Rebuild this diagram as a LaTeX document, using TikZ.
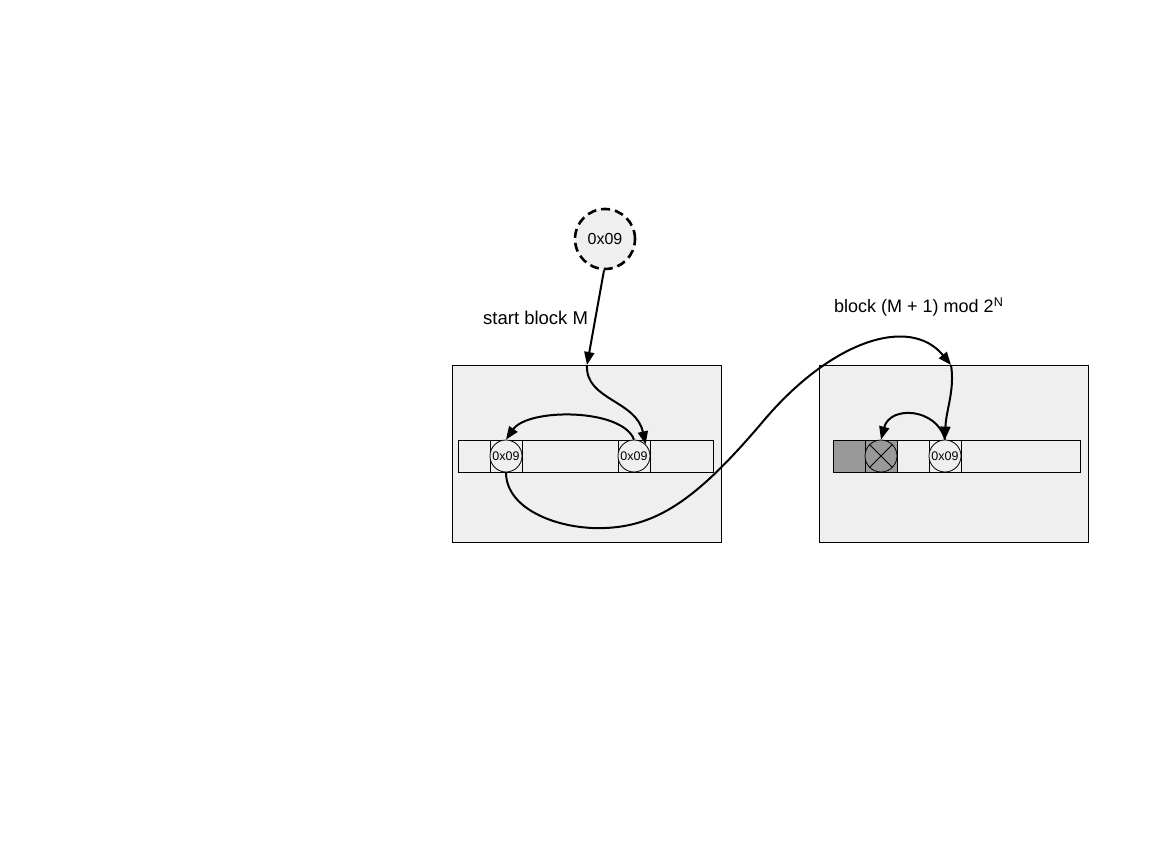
\documentclass[tikz,border=0pt]{standalone}
\usepackage{fontspec}
\setmainfont{Liberation Sans}
\usetikzlibrary{arrows.meta}
\definecolor{boxgray}{HTML}{EFEFEF}
\definecolor{darkcell}{HTML}{999999}
\begin{document}
\begin{tikzpicture}[x=1pt,y=-1pt,
  blockbox/.style={draw=black,line width=0.8pt,fill=boxgray},
  cellbox/.style={draw=black,line width=0.8pt,fill=boxgray},
  darkbox/.style={draw=black,line width=0.8pt,fill=darkcell},
  valcirc/.style={circle,draw=black,line width=0.8pt,fill=boxgray,minimum size=32pt,inner sep=0pt,font=\fontsize{12.5}{13}\selectfont},
  conn/.style={line width=2pt,-{Triangle[length=13pt,width=10pt]}},
  lbl/.style={font=\fontsize{18.5}{20}\selectfont,inner sep=0pt}
]
\useasboundingbox (0,0) rectangle (1152,864);
% blocks
\node[blockbox,minimum width=269pt,minimum height=177pt,inner sep=0pt,anchor=north west] (blkL) at (452,365) {};
\node[blockbox,minimum width=269pt,minimum height=177pt,inner sep=0pt,anchor=north west] (blkR) at (819,365) {};
% left strip
\draw[cellbox] (458,440) rectangle (713,472);
\draw[line width=0.8pt] (490,440) -- (490,472) (522,440) -- (522,472) (618,440) -- (618,472) (650,440) -- (650,472);
\node[valcirc] (cL1) at (506,456) {0x09};
\node[valcirc] (cL2) at (634,456) {0x09};
% right strip
\draw[cellbox] (833,440) rectangle (1080,472);
\draw[darkbox] (833,440) rectangle (865,472);
\draw[darkbox] (865,440) rectangle (897,472);
\draw[line width=0.8pt] (929,440) -- (929,472) (961,440) -- (961,472);
\node[circle,draw=black,line width=0.8pt,fill=darkcell,minimum size=32pt,inner sep=0pt] (cX) at (881,456) {};
\draw[line width=0.8pt] (cX.north east) -- (cX.south west) (cX.north west) -- (cX.south east);
\node[valcirc] (cR) at (945,456) {0x09};
% start circle
\node[circle,draw=black,line width=2.6pt,dash pattern=on 9pt off 5pt,fill=boxgray,minimum size=60pt,inner sep=0pt,font=\fontsize{16}{18}\selectfont] (start) at (605,239) {0x09};
% labels
\node[lbl,anchor=west] (lblM) at (483,318) {start block M};
\node[lbl,anchor=west,font=\fontsize{18}{20}\selectfont] (lblN) at (834,307) {block (M + 1) mod 2\textsuperscript{N}};
% coordinates
\coordinate (entL) at (587,365);
\coordinate (entR) at (951,365);
% connectors
\draw[conn] (start.south) ++(-1,0) -- (entL);
\draw[conn] (entL) .. controls (585,400) and (636,400) .. (cL2.north east);
\draw[conn] (cL2.north) .. controls (622,408) and (528,408) .. (cL1.north);
\draw[conn] (cL1.south) .. controls (506,510) and (560,530) .. (605,528)
   .. controls (660,526) and (700,495) .. (760,425)
   .. controls (830,340) and (910,315) .. (entR);
\draw[conn] (entR) .. controls (955,390) and (946,410) .. (cR.north);
\draw[conn] (cR.north) .. controls (937,408) and (890,405) .. (cX.north);
\end{tikzpicture}
\end{document}
